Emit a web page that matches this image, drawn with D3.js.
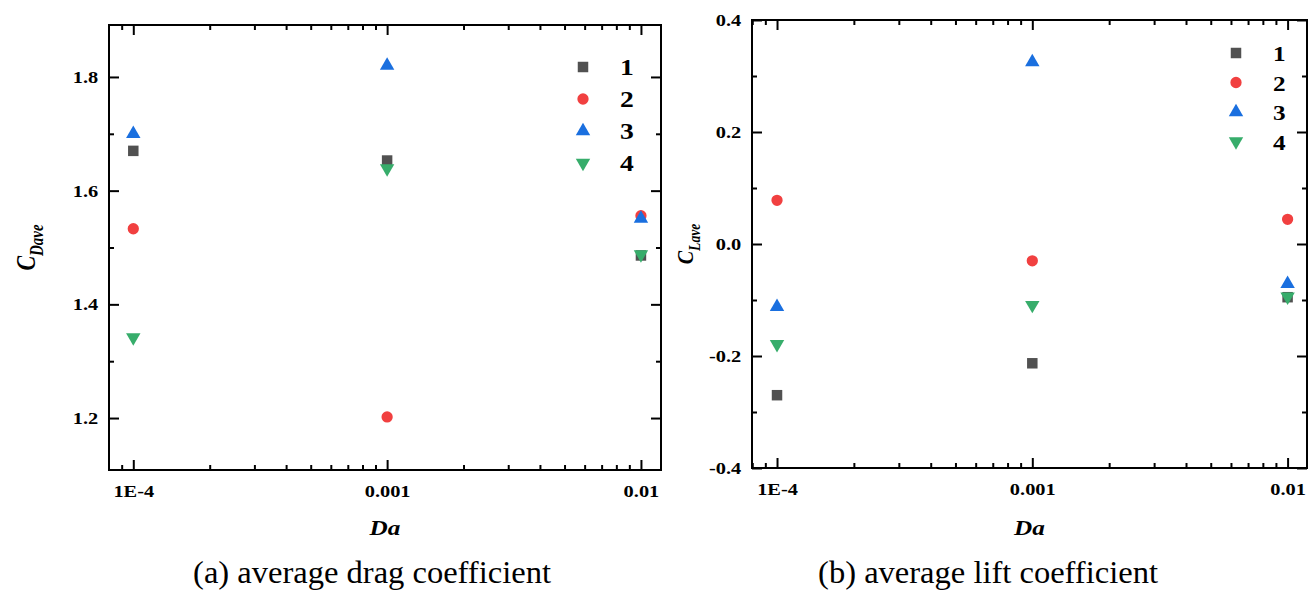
<!DOCTYPE html>
<html>
<head>
<meta charset="utf-8">
<script src="https://cdn.jsdelivr.net/npm/d3@7"></script>
<style>
  body { margin: 0; background: #fff; }
  text { font-family: "Liberation Serif", "Times New Roman", serif; }
</style>
</head>
<body>
<script>
var svgWidth = 1314
var svgHeight = 599

// data
var daValues = [1e-4, 1e-3, 1e-2]
var xTickLabels = ['1E-4', '0.001', '0.01']
var seriesNames = ['1', '2', '3', '4']

var drag1 = [1.670, 1.653, 1.486]
var drag2 = [1.533, 1.202, 1.556]
var drag3 = [1.700, 1.820, 1.551]
var drag4 = [1.342, 1.639, 1.488]
var dragTicks = [1.2, 1.4, 1.6, 1.8]
var dragMinorTicks = [1.3, 1.5, 1.7]

var lift1 = [-0.270, -0.213, -0.095]
var lift2 = [0.078, -0.030, 0.044]
var lift3 = [-0.112, 0.325, -0.071]
var lift4 = [-0.179, -0.109, -0.094]
var liftTicks = [-0.4, -0.2, 0.0, 0.2, 0.4]
var liftMinorTicks = [-0.3, -0.1, 0.1, 0.3]

// Origin "colorful" palette
var colors = ['#515151', '#F14040', '#1A6FDF', '#37AD6B']
var shapes = [d3.symbolSquare, d3.symbolCircle, d3.symbolTriangle, d3.symbolTriangle]
var sizes = [110, 100, 90, 90]
var rotations = [0, 0, 0, 180]

// the source figure is stretched sideways, so text is too
var stretch = 1.2

var svg = d3.select('body')
  .append('svg')
  .attr('width', svgWidth)
  .attr('height', svgHeight)

svg.append('rect')
  .attr('width', svgWidth)
  .attr('height', svgHeight)
  .attr('fill', 'white')

function wideText(px, py, sx) {
  return svg.append('text')
    .attr('transform', 'translate(' + px + ',' + py + ') scale(' + (sx || stretch) + ',1)')
}

function drawPanel(cfg) {
  var w = cfg.right - cfg.left
  var h = cfg.bottom - cfg.top
  var g = svg.append('g').attr('transform', 'translate(' + cfg.left + ',' + cfg.top + ')')

  var x = d3.scaleLog()
    .domain([Math.pow(10, cfg.xExp[0]), Math.pow(10, cfg.xExp[1])])
    .range([0, w])
  var y = d3.scaleLinear().domain(cfg.yDomain).range([h, 0])

  var allTicks = x.ticks()
  var majorX = allTicks.filter(d => Math.abs(Math.log10(d) - Math.round(Math.log10(d))) < 1e-9)
  var minorX = allTicks.filter(d => majorX.indexOf(d) < 0)
  var fmtX = d => xTickLabels[daValues.findIndex(v => Math.abs(v - d) / v < 1e-6)]
  var fmtY = d => d.toFixed(1)

  function styleAxis(sel) {
    sel.select('.domain').remove()
    sel.selectAll('line').attr('stroke', 'black').attr('stroke-width', 2)
    sel.selectAll('text')
      .attr('font-family', '"Liberation Serif", "Times New Roman", serif')
      .attr('font-weight', 'bold')
      .attr('font-size', 17)
      .attr('fill', 'black')
      .attr('transform', 'scale(' + stretch + ',1)')
  }

  // bottom & top
  g.append('g').attr('transform', 'translate(0,' + h + ')')
    .call(d3.axisBottom(x).tickValues(majorX).tickSize(-10).tickPadding(15).tickFormat(fmtX))
    .call(styleAxis)
  g.append('g').attr('transform', 'translate(0,' + h + ')')
    .call(d3.axisBottom(x).tickValues(minorX).tickSize(-5).tickFormat(''))
    .call(styleAxis)
  g.append('g')
    .call(d3.axisTop(x).tickValues(majorX).tickSize(-10).tickFormat(''))
    .call(styleAxis)
  g.append('g')
    .call(d3.axisTop(x).tickValues(minorX).tickSize(-5).tickFormat(''))
    .call(styleAxis)

  // left & right
  g.append('g')
    .call(d3.axisLeft(y).tickValues(cfg.yTicks).tickSize(-10).tickPadding(9).tickFormat(fmtY))
    .call(styleAxis)
  g.append('g')
    .call(d3.axisLeft(y).tickValues(cfg.yMinor).tickSize(-5).tickFormat(''))
    .call(styleAxis)
  g.append('g').attr('transform', 'translate(' + w + ',0)')
    .call(d3.axisRight(y).tickValues(cfg.yTicks).tickSize(-10).tickFormat(''))
    .call(styleAxis)
  g.append('g').attr('transform', 'translate(' + w + ',0)')
    .call(d3.axisRight(y).tickValues(cfg.yMinor).tickSize(-5).tickFormat(''))
    .call(styleAxis)

  // frame
  g.append('rect')
    .attr('width', w)
    .attr('height', h)
    .attr('fill', 'none')
    .attr('stroke', 'black')
    .attr('stroke-width', 2)

  // points
  cfg.series.forEach(function (vals, i) {
    g.append('g').selectAll('path')
      .data(vals)
      .enter()
      .append('path')
      .attr('d', d3.symbol().type(shapes[i]).size(sizes[i]))
      .attr('transform', (d, j) => 'translate(' + x(daValues[j]) + ',' + y(d) + ') rotate(' + rotations[i] + ')')
      .attr('fill', colors[i])
  })

  // legend
  var legend = svg.append('g')
  seriesNames.forEach(function (name, i) {
    var ly = cfg.legendY + i * cfg.legendStep
    legend.append('path')
      .attr('d', d3.symbol().type(shapes[i]).size(sizes[i]))
      .attr('transform', 'translate(' + cfg.legendX + ',' + ly + ') rotate(' + rotations[i] + ')')
      .attr('fill', colors[i])
    wideText(cfg.legendX + 37, ly + 8)
      .attr('font-weight', 'bold')
      .attr('font-size', cfg.legendFont)
      .text(name)
  })

  // axis titles
  wideText(cfg.left + w / 2, 535)
    .attr('text-anchor', 'middle')
    .attr('font-weight', 'bold')
    .attr('font-style', 'italic')
    .attr('font-size', 21)
    .text('Da')

  var yt = svg.append('text')
    .attr('transform', 'translate(' + cfg.yTitleX + ',' + (cfg.top + h / 2) + ') scale(' + stretch + ',1) rotate(-90)')
    .attr('text-anchor', 'middle')
    .attr('font-weight', 'bold')
    .attr('font-style', 'italic')
    .attr('font-size', cfg.yTitleFont)
  yt.append('tspan').text('C')
  yt.append('tspan')
    .attr('font-size', cfg.yTitleFont * 0.68)
    .attr('dy', cfg.yTitleFont * 0.3)
    .text(cfg.yTitleSub)

  // caption (set in the document, not part of the stretched plot)
  wideText(cfg.captionX, 583, 1.05)
    .attr('text-anchor', 'middle')
    .attr('font-size', 31)
    .text(cfg.caption)
}

drawPanel({
  left: 109, top: 25, right: 661, bottom: 470,
  xExp: [-4.0957, -1.921],
  yDomain: [1.1086, 1.8914],
  yTicks: dragTicks, yMinor: dragMinorTicks,
  series: [drag1, drag2, drag3, drag4],
  legendX: 583, legendY: 67, legendStep: 32, legendFont: 23,
  yTitleX: 35, yTitleFont: 22, yTitleSub: 'Dave',
  captionX: 372, caption: '(a) average drag coefficient'
})

drawPanel({
  left: 752, top: 20, right: 1307, bottom: 468,
  xExp: [-4.098, -1.924],
  yDomain: [-0.4, 0.4],
  yTicks: liftTicks, yMinor: liftMinorTicks,
  series: [lift1, lift2, lift3, lift4],
  legendX: 1236, legendY: 53, legendStep: 29.5, legendFont: 21,
  yTitleX: 693, yTitleFont: 20, yTitleSub: 'Lave',
  captionX: 988, caption: '(b) average lift coefficient'
})
</script>
</body>
</html>
